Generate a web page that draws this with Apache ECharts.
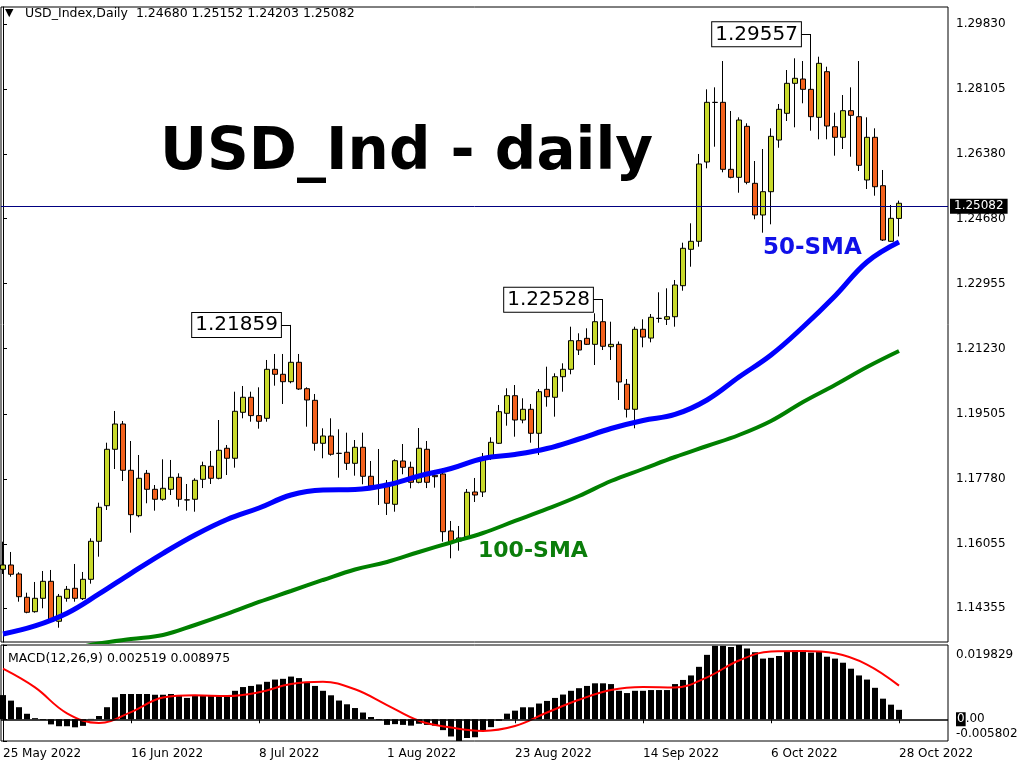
<!DOCTYPE html>
<html>
<head>
<meta charset="utf-8">
<title>USD_Index Daily</title>
<script src="https://cdn.jsdelivr.net/npm/echarts@6.0.0/dist/echarts.min.js"></script>
<style>
  html, body { margin: 0; padding: 0; background: #fff; }
  #chart { width: 1024px; height: 768px; }
</style>
</head>
<body>
<div id="chart"></div>
<script>
// bar index of each date label (daily bars, 25 May = bar 0)
var dateTicks = [0, 16, 32, 48, 64, 80, 96, 112];
var dateLabels = ['25 May 2022', '16 Jun 2022', '8 Jul 2022', '1 Aug 2022', '23 Aug 2022', '14 Sep 2022', '6 Oct 2022', '28 Oct 2022'];
var priceTicks = [1.14355, 1.16055, 1.17780, 1.19505, 1.21230, 1.22955, 1.24680, 1.26380, 1.28105, 1.29830];
var macdTicks = [-0.005802, 0, 0.019829];

var opens = [
  1.15385, 1.15499, 1.15261, 1.14644, 1.14262, 1.14617, 1.15067, 1.14008, 1.14617, 1.14882,
  1.14607, 1.15120, 1.16127, 1.17070, 1.18564, 1.19234, 1.18008, 1.16805, 1.17928, 1.17504,
  1.17240, 1.17504, 1.17822, 1.17225, 1.17240, 1.17769, 1.18114, 1.17796, 1.18591, 1.18326,
  1.19544, 1.19942, 1.19456, 1.19385, 1.20683, 1.20551, 1.20355, 1.20869, 1.20169, 1.19862,
  1.18723, 1.18916, 1.18458, 1.18485, 1.18193, 1.18617, 1.17849, 1.17610, 1.17663, 1.17107,
  1.18254, 1.18087, 1.17690, 1.18564, 1.17875, 1.17910, 1.16400, 1.16135, 1.16241, 1.17433,
  1.17433, 1.18326, 1.18723, 1.19518, 1.19984, 1.19340, 1.19624, 1.18988, 1.20153, 1.19942,
  1.20487, 1.20683, 1.21441, 1.21504, 1.21345, 1.21944, 1.21282, 1.21345, 1.20286, 1.19624,
  1.21743, 1.21511, 1.22034, 1.22008, 1.22076, 1.22898, 1.23862, 1.24074, 1.26175, 1.27756,
  1.27756, 1.25981, 1.25769, 1.27120, 1.25610, 1.24771, 1.25388, 1.26757, 1.27465, 1.28259,
  1.28373, 1.28100, 1.27359, 1.28567, 1.27110, 1.26829, 1.27534, 1.27375, 1.25698, 1.26829,
  1.25547, 1.24074, 1.24680
];
var highs = [
  1.16116, 1.15844, 1.15306, 1.14765, 1.15049, 1.15340, 1.15367, 1.14731, 1.14943, 1.15526,
  1.15314, 1.16206, 1.17149, 1.18739, 1.19579, 1.19314, 1.18784, 1.18413, 1.18016, 1.17618,
  1.18299, 1.18281, 1.17928, 1.17645, 1.17796, 1.18236, 1.18519, 1.19340, 1.18678, 1.20090,
  1.20241, 1.20090, 1.20206, 1.20930, 1.21089, 1.21089, 1.21859, 1.21089, 1.20206, 1.20029,
  1.19120, 1.19385, 1.19094, 1.19004, 1.18810, 1.19004, 1.18254, 1.18572, 1.17751, 1.18299,
  1.18704, 1.18236, 1.19128, 1.18784, 1.18016, 1.18061, 1.16665, 1.16532, 1.17512, 1.17804,
  1.18466, 1.18882, 1.19738, 1.20180, 1.20267, 1.19915, 1.19764, 1.20161, 1.20752, 1.20577,
  1.20842, 1.21812, 1.21637, 1.21769, 1.22167, 1.22528, 1.21944, 1.21420, 1.20426, 1.21812,
  1.22008, 1.22148, 1.22723, 1.22829, 1.23049, 1.24037, 1.24551, 1.26387, 1.28100, 1.28153,
  1.28850, 1.27526, 1.27359, 1.27200, 1.26201, 1.26519, 1.27067, 1.27711, 1.28612, 1.28922,
  1.28850, 1.29557, 1.28964, 1.28699, 1.27481, 1.27949, 1.28153, 1.28850, 1.27359, 1.27067,
  1.25963, 1.25036, 1.25152
];
var lows = [
  1.15261, 1.15189, 1.14527, 1.14220, 1.14236, 1.14352, 1.13971, 1.13838, 1.14527, 1.14527,
  1.14572, 1.15004, 1.15719, 1.16956, 1.18042, 1.17724, 1.16355, 1.16763, 1.17134, 1.16938,
  1.17202, 1.17353, 1.17044, 1.16938, 1.16911, 1.17537, 1.17645, 1.17769, 1.17883, 1.18077,
  1.19385, 1.19295, 1.19110, 1.19295, 1.20249, 1.19764, 1.20312, 1.20135, 1.19163, 1.18527,
  1.18326, 1.18395, 1.17812, 1.18016, 1.17865, 1.17637, 1.17486, 1.17089, 1.16824, 1.16911,
  1.17902, 1.17531, 1.17663, 1.17537, 1.17547, 1.16116, 1.15677, 1.15878, 1.16161, 1.17168,
  1.17300, 1.18281, 1.18704, 1.19189, 1.18898, 1.19253, 1.18739, 1.18413, 1.19693, 1.19428,
  1.20090, 1.20551, 1.21062, 1.21327, 1.20797, 1.21194, 1.20930, 1.19870, 1.19406, 1.19120,
  1.21266, 1.21398, 1.21918, 1.21857, 1.21812, 1.22765, 1.23401, 1.23931, 1.26008, 1.26580,
  1.25902, 1.25743, 1.25361, 1.25584, 1.24657, 1.24302, 1.24524, 1.26553, 1.27261, 1.27094,
  1.27730, 1.27004, 1.26776, 1.26776, 1.26342, 1.26519, 1.26315, 1.25936, 1.25459, 1.25282,
  1.24082, 1.24063, 1.24203
];
var closes = [
  1.15499, 1.15253, 1.14659, 1.14246, 1.14617, 1.15067, 1.14008, 1.14670, 1.14855, 1.14617,
  1.15120, 1.16127, 1.17028, 1.18564, 1.19234, 1.18008, 1.16832, 1.17796, 1.17504, 1.17240,
  1.17531, 1.17822, 1.17240, 1.17221, 1.17743, 1.18130, 1.17796, 1.18538, 1.18326, 1.19571,
  1.19942, 1.19456, 1.19306, 1.20683, 1.20551, 1.20355, 1.20869, 1.20161, 1.19870, 1.18723,
  1.18916, 1.18432, 1.18455, 1.18193, 1.18617, 1.17849, 1.17592, 1.17605, 1.17134, 1.18262,
  1.18087, 1.17690, 1.18591, 1.17690, 1.17838, 1.16381, 1.16116, 1.16214, 1.17425, 1.17353,
  1.18307, 1.18749, 1.19560, 1.19984, 1.19340, 1.19624, 1.18988, 1.20090, 1.19957, 1.20487,
  1.20683, 1.21441, 1.21194, 1.21345, 1.21944, 1.21293, 1.21345, 1.20347, 1.19624, 1.21743,
  1.21537, 1.22061, 1.22030, 1.22076, 1.22916, 1.23889, 1.24074, 1.26122, 1.27756, 1.27752,
  1.25981, 1.25769, 1.27287, 1.25637, 1.24771, 1.25388, 1.26855, 1.27571, 1.28259, 1.28392,
  1.28100, 1.27375, 1.28789, 1.27128, 1.26829, 1.27534, 1.27412, 1.26087, 1.26829, 1.25520,
  1.24108, 1.24683, 1.25082
];

// MACD main (histogram), one value per bar
var macdHist = [
  0.00645, 0.00498, 0.00322, 0.00147, 0.0003, -0.0002, -0.00137, -0.00186, -0.00186, -0.00215,
  -0.00176, 0.0001, 0.00088, 0.00322, 0.00586, 0.00674, 0.00674, 0.00674, 0.00674, 0.00655,
  0.00655, 0.00674, 0.0064, 0.0057, 0.0062, 0.0062, 0.0062, 0.0062, 0.0062, 0.0076,
  0.0086, 0.0089, 0.0093, 0.0100, 0.0106, 0.0108, 0.0114, 0.0110, 0.0098, 0.0089,
  0.0076, 0.0064, 0.0050, 0.0040, 0.0030, 0.0018, 0.0006, -0.0002, -0.0015, -0.0013,
  -0.0015, -0.0017, -0.0012, -0.0015, -0.0017, -0.0029, -0.0046, -0.0058, -0.0050, -0.0048,
  -0.0029, -0.0021, -0.0004, 0.0015, 0.0023, 0.0032, 0.0032, 0.0042, 0.0049, 0.0057,
  0.0066, 0.0076, 0.0083, 0.0089, 0.0096, 0.0096, 0.0094, 0.0076, 0.0070, 0.0076,
  0.0076, 0.0078, 0.0078, 0.0078, 0.0094, 0.0105, 0.0117, 0.0140, 0.0172, 0.0196,
  0.0196, 0.0193, 0.019829, 0.0189, 0.0179, 0.0162, 0.0164, 0.0169, 0.0182, 0.0184,
  0.0184, 0.0178, 0.0181, 0.0167, 0.0162, 0.0151, 0.0135, 0.0117, 0.0106, 0.0084,
  0.0055, 0.0039, 0.002519
];

// smooth lines
var sampleBars = [0, 4, 8, 12, 16, 20, 24, 28, 32, 36, 40, 44, 48, 52, 56, 60, 64, 68, 72, 76, 80, 84, 88, 92, 96, 100, 104, 108, 112];
var macdSignal = [
  0.0135, 0.0085, 0.0016, -0.0010, 0.0019, 0.0058, 0.0064, 0.0062, 0.0072, 0.0094,
  0.0100, 0.0080, 0.0038, -0.0004, -0.0022, -0.0031, -0.0018, 0.0018, 0.0052, 0.0078,
  0.0086, 0.0085, 0.0112, 0.0157, 0.0181, 0.0182, 0.0176, 0.0146, 0.008975
];
var sma50 = [
  1.13671, 1.13883, 1.14220, 1.14731, 1.15279, 1.15809, 1.16294, 1.16704, 1.17009, 1.17353,
  1.17486, 1.17499, 1.17618, 1.17857, 1.18055, 1.18320, 1.18426, 1.18585, 1.18837, 1.19115,
  1.19327, 1.19486, 1.19870, 1.20479, 1.21062, 1.21804, 1.22625, 1.23526, 1.24055
];
var sma100 = [
  1.12850, 1.13062, 1.13247, 1.13420, 1.13539, 1.13645, 1.13910, 1.14201, 1.14519, 1.14810,
  1.15102, 1.15380, 1.15579, 1.15844, 1.16095, 1.16347, 1.16665, 1.16983, 1.17327, 1.17724,
  1.18042, 1.18360, 1.18651, 1.18943, 1.19314, 1.19817, 1.20267, 1.20744, 1.21168
];

var lastPrice = 1.25082;
var noteBars = [36, 75, 101];
var notePrices = [1.21859, 1.22528, 1.29557];

var bullColor = '#c8d92b';
var bearColor = '#f2611d';
var font = 'DejaVu Sans';
var xMin = -0.25, xMax = 118.125;

var candles = opens.map(function (o, i) {
  return [i, o, closes[i], lows[i], highs[i]];
});

var noteLines = [];
var notePoints = [];
for (var n = 0; n < noteBars.length; n++) {
  noteLines.push([
    { coord: [noteBars[n] - 1.2, notePrices[n]] },
    { coord: [noteBars[n], notePrices[n]] }
  ]);
  notePoints.push({
    coord: [noteBars[n] - 1.2, notePrices[n]],
    value: notePrices[n].toFixed(5)
  });
}

var chart = echarts.init(document.getElementById('chart'));

var option = {
  animation: false,
  backgroundColor: '#fff',
  textStyle: { fontFamily: font },
  grid: [
    { left: 1, right: 76, top: 7, height: 635, show: true, borderColor: '#000', borderWidth: 1, backgroundColor: 'transparent' },
    { left: 1, right: 76, top: 645, height: 96, show: true, borderColor: '#000', borderWidth: 1, backgroundColor: 'transparent' }
  ],
  xAxis: [
    { type: 'value', gridIndex: 0, min: xMin, max: xMax, show: false },
    {
      type: 'value', gridIndex: 1, min: xMin, max: xMax,
      axisLine: { show: false },
      splitLine: { show: false },
      axisTick: { show: true, customValues: dateTicks, length: 4, lineStyle: { color: '#000' } },
      axisLabel: {
        customValues: dateTicks,
        formatter: function (v) { return dateLabels[dateTicks.indexOf(v)]; },
        align: 'left', color: '#000', fontSize: 12, fontFamily: font, margin: 7
      }
    }
  ],
  yAxis: [
    {
      type: 'value', gridIndex: 0, position: 'right', min: 1.13459, max: 1.30281,
      axisLine: { show: true, lineStyle: { color: '#000' } },
      axisTick: { show: true, customValues: priceTicks, length: 4, lineStyle: { color: '#000' } },
      axisLabel: {
        customValues: priceTicks,
        formatter: function (v) { return v.toFixed(5); },
        color: '#000', fontSize: 12, fontFamily: font, margin: 8
      },
      splitLine: { show: false }
    },
    {
      type: 'value', gridIndex: 1, position: 'right', min: -0.005802, max: 0.019829,
      axisLine: { show: true, lineStyle: { color: '#000' } },
      axisTick: { show: true, customValues: macdTicks, length: 4, lineStyle: { color: '#000' } },
      axisLabel: {
        customValues: macdTicks,
        formatter: function (v) {
          if (v > 0.01) return '{t|' + v.toFixed(6) + '}';
          if (v < 0) return '{b|' + v.toFixed(6) + '}';
          return '{k|0}{n|.00}';
        },
        margin: 8,
        rich: {
          t: { fontSize: 12, fontFamily: font, color: '#000', padding: [20, 0, 0, 0] },
          b: { fontSize: 12, fontFamily: font, color: '#000', padding: [0, 0, 14, 0] },
          k: { fontSize: 12, fontFamily: font, color: '#fff', backgroundColor: '#000', padding: [1, 1, 1, 1] },
          n: { fontSize: 12, fontFamily: font, color: '#000' }
        }
      },
      splitLine: { show: false }
    }
  ],
  graphic: [
    { type: 'text', left: 5, top: 8, style: { text: '\u25BC', font: '11px "DejaVu Sans"', fill: '#000' } },
    { type: 'text', left: 25, top: 7, style: { text: 'USD_Index,Daily  1.24680 1.25152 1.24203 1.25082', font: '12.5px "DejaVu Sans"', fill: '#000' } },
    { type: 'text', left: 8, top: 652, style: { text: 'MACD(12,26,9) 0.002519 0.008975', font: '12.5px "DejaVu Sans"', fill: '#000' } },
    { type: 'text', left: 160, top: 125, style: { text: 'USD_Ind - daily', font: 'bold 58px "DejaVu Sans"', fill: '#000' } },
    { type: 'text', left: 763, top: 237, style: { text: '50-SMA', font: 'bold 23px "DejaVu Sans"', fill: '#1010e8' } },
    { type: 'text', left: 478, top: 540, style: { text: '100-SMA', font: 'bold 22px "DejaVu Sans"', fill: '#0b7d0b' } }
  ],
  series: [
    {
      type: 'candlestick',
      xAxisIndex: 0, yAxisIndex: 0,
      data: candles,
      barWidth: 5,
      itemStyle: {
        color: bullColor, color0: bearColor,
        borderColor: '#000', borderColor0: '#000', borderColorDoji: '#000',
        borderWidth: 1
      },
      markLine: {
        silent: true,
        symbol: 'none',
        label: { show: false },
        lineStyle: { color: '#000', width: 1, type: 'solid' },
        data: [
          {
            yAxis: lastPrice,
            lineStyle: { color: '#000080', width: 1, type: 'solid' },
            label: {
              show: true, position: 'end', distance: 2,
              formatter: lastPrice.toFixed(5),
              color: '#fff', backgroundColor: '#000',
              padding: [2, 4, 1, 4], fontSize: 12, fontFamily: font
            }
          }
        ].concat(noteLines)
      },
      markPoint: {
        silent: true,
        symbol: 'circle',
        symbolSize: 1,
        itemStyle: { color: 'transparent' },
        label: {
          show: true, position: 'left', distance: 0,
          formatter: '{c}',
          color: '#000', fontSize: 20, fontFamily: font,
          backgroundColor: '#fff', borderColor: '#000', borderWidth: 1,
          padding: [3, 3, 1, 3]
        },
        data: notePoints
      }
    },
    {
      type: 'line',
      xAxisIndex: 0, yAxisIndex: 0,
      data: sampleBars.map(function (b, i) { return [b, sma50[i]]; }),
      smooth: 0.4,
      showSymbol: false,
      lineStyle: { color: '#0000ff', width: 5 }
    },
    {
      type: 'line',
      xAxisIndex: 0, yAxisIndex: 0,
      data: sampleBars.map(function (b, i) { return [b, sma100[i]]; }),
      smooth: 0.4,
      showSymbol: false,
      lineStyle: { color: '#008000', width: 4 }
    },
    {
      type: 'bar',
      xAxisIndex: 1, yAxisIndex: 1,
      data: macdHist.map(function (v, i) { return [i, v]; }),
      barWidth: 6,
      itemStyle: { color: '#000' },
      markLine: {
        silent: true,
        symbol: 'none',
        label: { show: false },
        lineStyle: { color: '#000', width: 1.5, type: 'solid' },
        data: [{ yAxis: 0 }]
      }
    },
    {
      type: 'line',
      xAxisIndex: 1, yAxisIndex: 1,
      data: sampleBars.map(function (b, i) { return [b, macdSignal[i]]; }),
      smooth: 0.4,
      showSymbol: false,
      lineStyle: { color: '#ff0000', width: 2 }
    }
  ]
};

chart.setOption(option);
</script>
</body>
</html>
